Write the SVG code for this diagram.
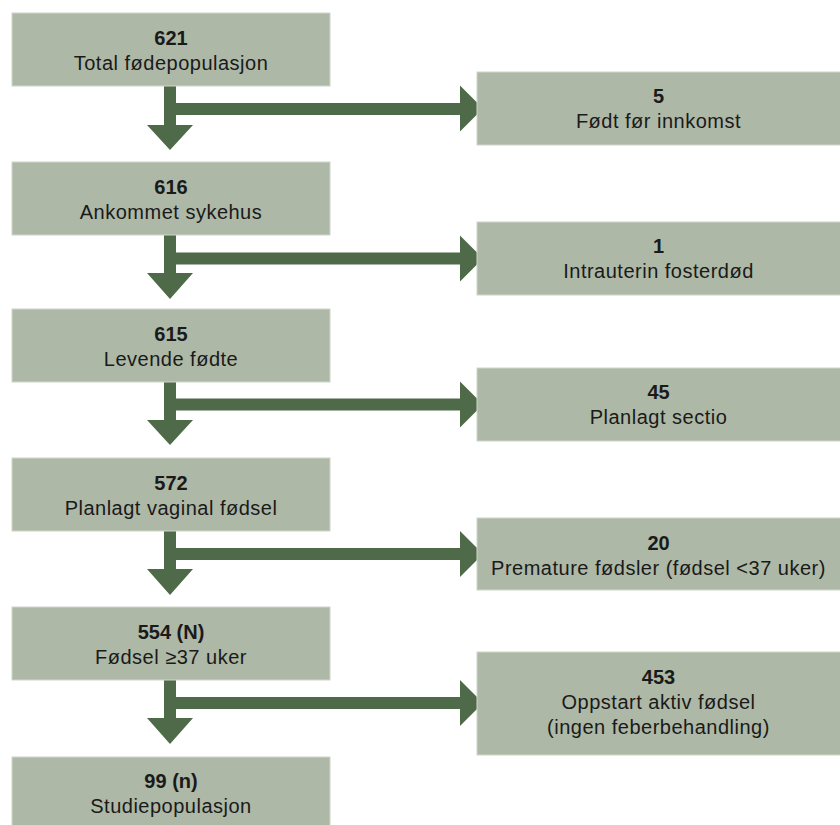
<svg xmlns="http://www.w3.org/2000/svg" width="840" height="825" viewBox="0 0 840 825">
<style>
.box{fill:#adb8a6;stroke:#cfd6ca;stroke-width:1}
.arr{fill:#4f6a48}
text{font-family:"Liberation Sans",Arial,sans-serif;font-size:20px;letter-spacing:0.5px;fill:#1a1a1a;text-anchor:middle}
.b{font-weight:bold;letter-spacing:0}
</style>
<rect width="840" height="825" fill="#ffffff"/>
<g id="connectors">
<path class="arr" d="M164,86 H176 V103 H460 V85.5 L483,108.5 L460,131.5 V115 H176 V125 H193 L170,150 L147,125 H164 Z"/>
<path class="arr" d="M164,235 H176 V252.5 H460 V235.5 L483,258.5 L460,281.5 V264.5 H176 V273 H193 L170,299 L147,273 H164 Z"/>
<path class="arr" d="M164,382 H176 V398.5 H460 V381.5 L483,404.5 L460,427.5 V410.5 H176 V420 H193 L170,445 L147,420 H164 Z"/>
<path class="arr" d="M164,531 H176 V548 H460 V531 L483,554 L460,577 V560 H176 V569 H193 L170,595 L147,569 H164 Z"/>
<path class="arr" d="M164,680 H176 V697 H460 V680 L483,703 L460,726 V709 H176 V718 H193 L170,744 L147,718 H164 Z"/>
</g>
<g id="n1"><rect class="box" x="12" y="13" width="318" height="73"/><text class="b" x="171" y="45">621</text><text x="171" y="70">Total fødepopulasjon</text></g>
<g id="n2"><rect class="box" x="12" y="162" width="318" height="73"/><text class="b" x="171" y="194">616</text><text x="171" y="219">Ankommet sykehus</text></g>
<g id="n3"><rect class="box" x="12" y="309" width="318" height="73"/><text class="b" x="171" y="341">615</text><text x="171" y="366">Levende fødte</text></g>
<g id="n4"><rect class="box" x="12" y="458" width="318" height="73"/><text class="b" x="171" y="490">572</text><text x="171" y="515">Planlagt vaginal fødsel</text></g>
<g id="n5"><rect class="box" x="12" y="607" width="318" height="73"/><text class="b" x="171" y="639">554 (N)</text><text x="171" y="664">Fødsel ≥37 uker</text></g>
<g id="n6"><rect class="box" x="12" y="757" width="318" height="75"/><text class="b" x="171" y="788">99 (n)</text><text x="171" y="813">Studiepopulasjon</text></g>
<g id="r1"><rect class="box" x="477" y="72" width="370" height="73"/><text class="b" x="658.5" y="103">5</text><text x="658.5" y="128">Født før innkomst</text></g>
<g id="r2"><rect class="box" x="477" y="222" width="370" height="73"/><text class="b" x="658.5" y="253">1</text><text x="658.5" y="278">Intrauterin fosterdød</text></g>
<g id="r3"><rect class="box" x="477" y="368" width="370" height="73"/><text class="b" x="658.5" y="399">45</text><text x="658.5" y="424">Planlagt sectio</text></g>
<g id="r4"><rect class="box" x="477" y="518" width="370" height="72"/><text class="b" x="658.5" y="550">20</text><text x="658.5" y="575">Premature fødsler (fødsel &lt;37 uker)</text></g>
<g id="r5"><rect class="box" x="477" y="652" width="370" height="103"/><text class="b" x="658.5" y="684">453</text><text x="658.5" y="709">Oppstart aktiv fødsel</text><text x="658.5" y="734">(ingen feberbehandling)</text></g>
</svg>
